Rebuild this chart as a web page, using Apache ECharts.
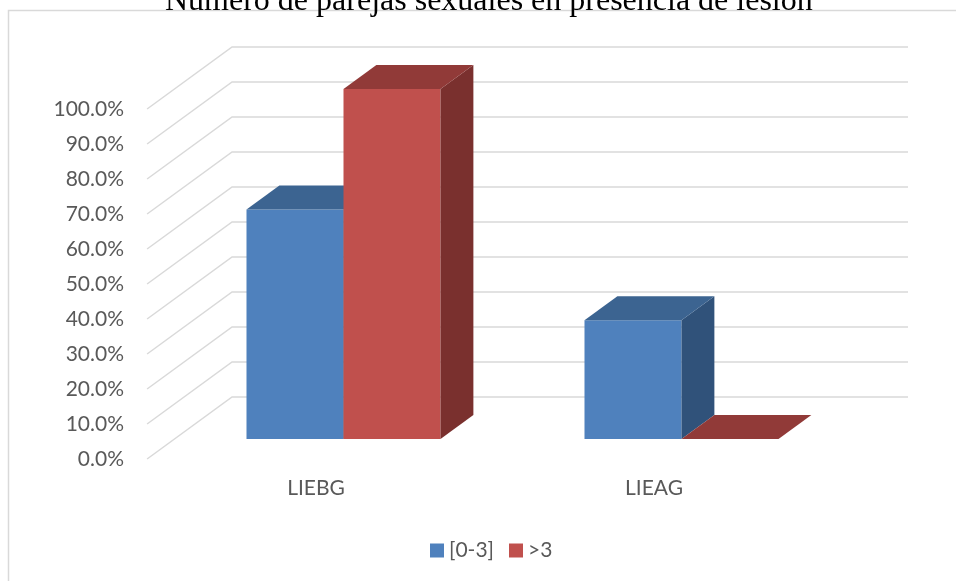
<!DOCTYPE html>
<html>
<head>
<meta charset="utf-8">
<script src="https://cdn.jsdelivr.net/npm/echarts@6/dist/echarts.min.js"></script>
<style>
  html, body { margin: 0; padding: 0; background: #ffffff; }
  #chart { width: 956px; height: 581px; }
</style>
</head>
<body>
<div id="chart"></div>
<script>
// Categories and series values (percent)
const categories = ['LIEBG', 'LIEAG'];
const seriesNames = ['[0-3]', '>3'];
const range03 = [65.6, 33.9];
const over3 = [100, 0];
// Value axis ticks (percent)
const tickValues = [0, 10, 20, 30, 40, 50, 60, 70, 80, 90, 100];

// Oblique 3D look: offsets relative to the plane holding the bars' front faces
const SLOPE = 1.37;            // horizontal shift per pixel of vertical shift
const BACK_DY = -42, FRONT_DY = 20;
const BAR_DY = -24;
const BAR_RATIO = 0.287;       // bar width as a share of the category band

const faceColors = [
  { front: '#4F81BD', top: '#3C6491', side: '#30527A' },
  { front: '#C0504D', top: '#913A38', side: '#7A302E' }
];

const chart = echarts.init(document.getElementById('chart'));

function wallItem(params, api) {
  const v = api.value(0);
  const bw = api.size([1, 0])[0];
  const pL = api.coord([0, v]);
  const pR = api.coord([categories.length - 1, v]);
  const xL = pL[0] - bw / 2, xR = pR[0] + bw / 2, y = pL[1];
  return {
    type: 'polyline',
    shape: {
      points: [
        [xL - FRONT_DY * SLOPE, y + FRONT_DY],
        [xL - BACK_DY * SLOPE, y + BACK_DY],
        [xR - BACK_DY * SLOPE, y + BACK_DY]
      ]
    },
    style: { stroke: '#D9D9D9', lineWidth: 1.5, fill: null },
    silent: true
  };
}

function barRenderer(s) {
  const col = faceColors[s];
  return function (params, api) {
    const idx = api.value(0);
    const v = api.value(1);
    const top = api.coord([idx, v]);
    const base = api.coord([idx, 0]);
    const bw = api.size([1, 0])[0];
    const w = bw * BAR_RATIO;
    const x0 = top[0] - w + s * w;
    const x1 = x0 + w;
    const yT = top[1], yB = base[1];
    const dy = BAR_DY, dx = -BAR_DY * SLOPE;
    const children = [];
    if (yB - yT > 0.5) {
      children.push({
        type: 'rect',
        shape: { x: x0, y: yT, width: w, height: yB - yT },
        style: { fill: col.front }
      });
      children.push({
        type: 'polygon',
        shape: { points: [[x1, yT], [x1 + dx, yT + dy], [x1 + dx, yB + dy], [x1, yB]] },
        style: { fill: col.side }
      });
    }
    children.push({
      type: 'polygon',
      shape: { points: [[x0, yT], [x0 + dx, yT + dy], [x1 + dx, yT + dy], [x1, yT]] },
      style: { fill: col.top }
    });
    return { type: 'group', children: children };
  };
}

const labelFont = { fontFamily: 'Lato', fontSize: 21, color: '#595959' };

const option = {
  backgroundColor: '#ffffff',
  animation: false,
  title: {
    text: 'Número de parejas sexuales en presencia de lesión',
    left: 160,
    top: -19,
    textStyle: { fontFamily: 'Liberation Serif', fontSize: 32, fontWeight: 'normal', color: '#000000' }
  },
  graphic: [{
    type: 'rect',
    shape: { x: 8.5, y: 10.5, width: 1000, height: 1000 },
    style: { fill: null, stroke: '#D9D9D9', lineWidth: 1.5 },
    silent: true,
    z: -10
  }],
  legend: {
    data: seriesNames,
    left: 425,
    top: 535,
    icon: 'rect',
    itemWidth: 14,
    itemHeight: 14,
    itemGap: 15,
    textStyle: labelFont
  },
  grid: [
    // plane of the bars' front faces
    { left: 174.5, right: 105.5, top: 89, bottom: 142 },
    // front plane carrying the axis labels
    { left: 147, right: 133, top: 109, bottom: 122 }
  ],
  xAxis: [
    { type: 'category', gridIndex: 0, data: categories, boundaryGap: true, show: false },
    {
      type: 'category', gridIndex: 1, data: categories, boundaryGap: true,
      axisLine: { show: false }, axisTick: { show: false },
      axisLabel: Object.assign({ margin: 19 }, labelFont)
    }
  ],
  yAxis: [
    { type: 'value', gridIndex: 0, min: 0, max: 100, interval: 10, show: false },
    {
      type: 'value', gridIndex: 1, min: 0, max: 100, interval: 10,
      axisLine: { show: false }, axisTick: { show: false }, splitLine: { show: false },
      axisLabel: Object.assign({ margin: 23, formatter: v => v.toFixed(1) + '%' }, labelFont)
    }
  ],
  series: [
    {
      type: 'custom', name: 'walls', xAxisIndex: 0, yAxisIndex: 0,
      data: tickValues.map(v => [v]),
      encode: { y: 0 },
      renderItem: wallItem,
      silent: true, z: 1
    },
    {
      type: 'custom', name: seriesNames[0], xAxisIndex: 0, yAxisIndex: 0,
      itemStyle: { color: faceColors[0].front },
      data: range03.map((v, i) => [i, v]),
      encode: { x: 0, y: 1 },
      renderItem: barRenderer(0), z: 2
    },
    {
      type: 'custom', name: seriesNames[1], xAxisIndex: 0, yAxisIndex: 0,
      itemStyle: { color: faceColors[1].front },
      data: over3.map((v, i) => [i, v]),
      encode: { x: 0, y: 1 },
      renderItem: barRenderer(1), z: 3
    }
  ]
};

chart.setOption(option);
</script>
</body>
</html>
